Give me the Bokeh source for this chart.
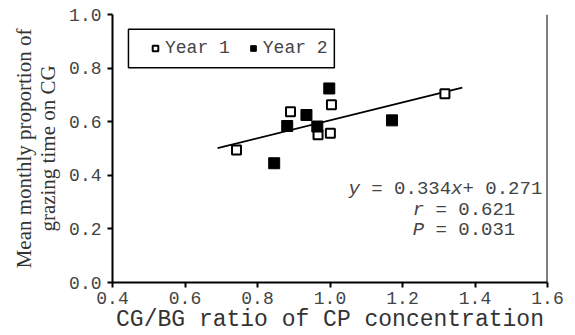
from bokeh.plotting import figure
from bokeh.models import (Range1d, Legend, LegendItem, Label, Span, FixedTicker,
                          PrintfTickFormatter, BoxAnnotation)
from bokeh.embed import file_html
from bokeh.resources import INLINE

# ---- data ----
year1_x = [0.742, 0.891, 0.967, 1.001, 1.004, 1.317]
year1_y = [0.494, 0.637, 0.551, 0.557, 0.663, 0.704]
year2_x = [0.846, 0.882, 0.935, 0.965, 0.998, 1.171]
year2_y = [0.445, 0.584, 0.625, 0.582, 0.724, 0.605]

slope = 0.334
intercept = 0.271
fit_x = [0.69, 1.365]
fit_y = [slope * v + intercept for v in fit_x]

x_ticks = [0.4, 0.6, 0.8, 1.0, 1.2, 1.4, 1.6]
y_ticks = [0.0, 0.2, 0.4, 0.6, 0.8, 1.0]

x_title = "CG/BG ratio of CP concentration"
y_title = "Mean monthly proportion of\ngrazing time on CG"
series_labels = ["Year 1", "Year 2"]

MONO = "Liberation Mono"
SERIF = "Liberation Serif"
TXT = "#333333"

p = figure(width=575, height=335, output_backend="svg", toolbar_location=None,
           x_range=Range1d(0.4, 1.6), y_range=Range1d(0.0, 1.0),
           min_border_left=112, min_border_top=14, min_border_right=28,
           min_border_bottom=50)
p.outline_line_color = None
p.grid.visible = False
p.background_fill_color = "white"

for ax in (p.xaxis[0], p.yaxis[0]):
    ax.axis_line_width = 2
    ax.axis_line_color = "black"
    ax.major_tick_line_width = 2
    ax.major_tick_line_color = "black"
    ax.major_tick_out = 5
    ax.major_tick_in = 0
    ax.minor_tick_line_color = None
    ax.major_label_text_font = MONO
    ax.major_label_text_font_size = "18px"
    ax.major_label_text_color = "#444444"
    ax.formatter = PrintfTickFormatter(format="%.1f")
    ax.axis_label_text_font_style = "normal"
    ax.axis_label_text_color = TXT

p.xaxis.ticker = FixedTicker(ticks=x_ticks)
p.yaxis.ticker = FixedTicker(ticks=y_ticks)
p.xaxis.major_label_standoff = 4
p.yaxis.major_label_standoff = 6
p.xaxis.axis_label = x_title
p.xaxis.axis_label_text_font = MONO
p.xaxis.axis_label_text_font_size = "23px"
p.xaxis.axis_label_text_line_height = 0.5
p.xaxis.axis_label_standoff = 0
p.yaxis.axis_label = y_title
p.yaxis.axis_label_text_font = SERIF
p.yaxis.axis_label_text_font_size = "21px"
p.yaxis.axis_label_text_line_height = 1.0
p.yaxis.axis_label_standoff = 6

# right border line
p.add_layout(Span(location=1.6, dimension="height", line_color="black", line_width=2))

# regression line
p.line(fit_x, fit_y, line_color="black", line_width=1.8)

r1 = p.scatter(year1_x, year1_y, marker="square", size=9, fill_color="white",
               line_color="black", line_width=2)
r2 = p.scatter(year2_x, year2_y, marker="square", size=11, fill_color="black",
               line_color="black", line_width=1)

# legend box
p.add_layout(BoxAnnotation(left=0.444, right=1.012, top=0.945, bottom=0.801,
                           fill_alpha=0, line_color="black", line_width=1.5,
                           line_alpha=1))
legend = Legend(items=[LegendItem(label=series_labels[0], renderers=[r1]),
                       LegendItem(label=series_labels[1], renderers=[r2])],
                orientation="horizontal", location=(36, 224),
                border_line_color=None, background_fill_alpha=0,
                padding=0, margin=0, spacing=16, label_standoff=3,
                glyph_width=14, glyph_height=14,
                label_text_font=MONO, label_text_font_size="18px",
                label_text_color="#444444")
p.add_layout(legend)

# equation text
cw = 0.6 * 19
eq_pieces = [
    ("y", "italic", 0, 1.051, 0.3506),
    ("= 0.334", "normal", 2, 1.051, 0.3506),
    ("x", "italic", 9, 1.051, 0.3506),
    ("+ 0.271", "normal", 10, 1.051, 0.3506),
    ("r", "italic", 0, 1.228, 0.2694),
    ("= 0.621", "normal", 2, 1.228, 0.2694),
    ("P", "italic", 0, 1.228, 0.1956),
    ("= 0.031", "normal", 2, 1.228, 0.1956),
]
for txt, style, n, lx, ly in eq_pieces:
    p.add_layout(Label(x=lx, y=ly, x_offset=n * cw, text=txt,
                       text_font=MONO, text_font_size="19px",
                       text_font_style=style, text_color="#444444",
                       text_baseline="middle", text_align="left"))

open("out.html", "w").write(file_html(p, INLINE))
